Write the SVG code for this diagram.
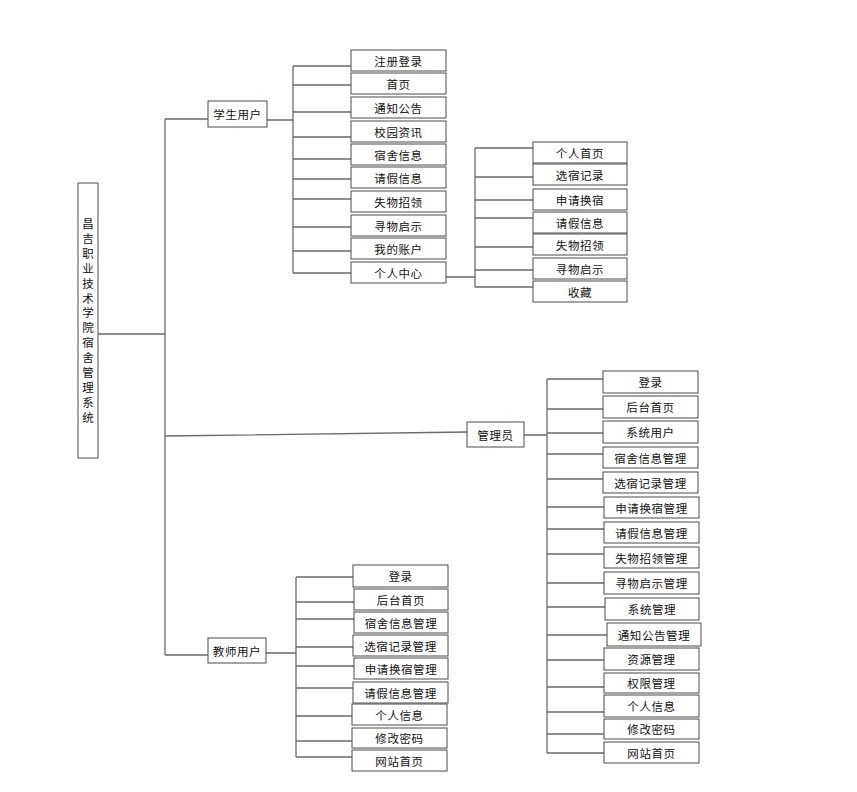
<svg xmlns="http://www.w3.org/2000/svg" width="857" height="792" viewBox="0 0 857 792">
<style>
.box{fill:#fff;stroke:#4a4a4a;stroke-width:1}
.lbl{font-family:"Noto Sans CJK SC","Liberation Sans",sans-serif;font-size:11.5px;letter-spacing:0.6px;text-anchor:middle;dominant-baseline:central;fill:#111}
.c{stroke:#6a6a6a;stroke-width:1.3;fill:none}
</style>
<rect width="857" height="792" fill="#fff"/>
<g id="connectors">
<path class="c" d="M98,334H165M165,119V655M165,119H208M165,436L467,432M165,655H208"/>
<path class="c" d="M267,120H293M293,66V273M293,66H351M293,85H351M293,112H351M293,137H351M293,159H351M293,179H351M293,199H351M293,227H351M293,251H351M293,273H351"/>
<path class="c" d="M446,277H475M475,148V287M475,148H533M475,177H533M475,200H533M475,218H533M475,247H533M475,270H533M475,287H533"/>
<path class="c" d="M524,435H547M547,379V753M547,379H603M547,409H603M547,433H603M547,454H603M547,479H603M547,507H604M547,529H604M547,554H604M547,583H604M547,607H605M547,635H607M547,660H604M547,687H604M547,712H604M547,734H604M547,753H604"/>
<path class="c" d="M266,653H296M296,577V757M296,577H353M296,602H354M296,619H354M296,647H353M296,666H354M296,688H353M296,716H352M296,741H352M296,757H352"/>
</g>
<g id="root">
<rect class="box" x="78" y="183" width="20" height="275"/>
<text class="lbl" x="88" y="223" style="letter-spacing:0">
<tspan x="88" y="223">昌</tspan><tspan x="88" dy="14.9">吉</tspan><tspan x="88" dy="14.9">职</tspan><tspan x="88" dy="14.9">业</tspan><tspan x="88" dy="14.9">技</tspan><tspan x="88" dy="14.9">术</tspan><tspan x="88" dy="14.9">学</tspan><tspan x="88" dy="14.9">院</tspan><tspan x="88" dy="14.9">宿</tspan><tspan x="88" dy="14.9">舍</tspan><tspan x="88" dy="14.9">管</tspan><tspan x="88" dy="14.9">理</tspan><tspan x="88" dy="14.9">系</tspan><tspan x="88" dy="14.9">统</tspan>
</text>
</g>
<g id="student"><rect class="box" x="208" y="101" width="59" height="26"/><text class="lbl" x="237.5" y="114">学生用户</text></g>
<g id="admin"><rect class="box" x="467" y="422" width="57" height="25"/><text class="lbl" x="495.5" y="434.5">管理员</text></g>
<g id="teacher"><rect class="box" x="208" y="638" width="58" height="25"/><text class="lbl" x="237" y="650.5">教师用户</text></g>

<g id="s1"><rect class="box" x="351" y="50" width="95" height="21"/><text class="lbl" x="398.5" y="60.5">注册登录</text></g>
<g id="s2"><rect class="box" x="351" y="73" width="95" height="21"/><text class="lbl" x="398.5" y="83.5">首页</text></g>
<g id="s3"><rect class="box" x="351" y="97" width="95" height="21"/><text class="lbl" x="398.5" y="107.5">通知公告</text></g>
<g id="s4"><rect class="box" x="351" y="121" width="95" height="21"/><text class="lbl" x="398.5" y="131.5">校园资讯</text></g>
<g id="s5"><rect class="box" x="351" y="144" width="95" height="21"/><text class="lbl" x="398.5" y="154.5">宿舍信息</text></g>
<g id="s6"><rect class="box" x="351" y="167" width="95" height="21"/><text class="lbl" x="398.5" y="177.5">请假信息</text></g>
<g id="s7"><rect class="box" x="351" y="191" width="95" height="21"/><text class="lbl" x="398.5" y="201.5">失物招领</text></g>
<g id="s8"><rect class="box" x="351" y="215" width="95" height="21"/><text class="lbl" x="398.5" y="225.5">寻物启示</text></g>
<g id="s9"><rect class="box" x="351" y="238" width="95" height="21"/><text class="lbl" x="398.5" y="248.5">我的账户</text></g>
<g id="s10"><rect class="box" x="351" y="262" width="95" height="21"/><text class="lbl" x="398.5" y="272.5">个人中心</text></g>

<g id="p1"><rect class="box" x="533" y="142" width="94" height="21"/><text class="lbl" x="580" y="152.5">个人首页</text></g>
<g id="p2"><rect class="box" x="533" y="164" width="94" height="21"/><text class="lbl" x="580" y="174.5">选宿记录</text></g>
<g id="p3"><rect class="box" x="533" y="189" width="94" height="21"/><text class="lbl" x="580" y="199.5">申请换宿</text></g>
<g id="p4"><rect class="box" x="533" y="212" width="94" height="21"/><text class="lbl" x="580" y="222.5">请假信息</text></g>
<g id="p5"><rect class="box" x="533" y="234" width="94" height="21"/><text class="lbl" x="580" y="244.5">失物招领</text></g>
<g id="p6"><rect class="box" x="533" y="258" width="94" height="21"/><text class="lbl" x="580" y="268.5">寻物启示</text></g>
<g id="p7"><rect class="box" x="533" y="281" width="94" height="21"/><text class="lbl" x="580" y="291.5">收藏</text></g>

<g id="a1"><rect class="box" x="603" y="371" width="95" height="22"/><text class="lbl" x="650.5" y="382">登录</text></g>
<g id="a2"><rect class="box" x="603" y="396" width="95" height="22"/><text class="lbl" x="650.5" y="407">后台首页</text></g>
<g id="a3"><rect class="box" x="603" y="421" width="95" height="22"/><text class="lbl" x="650.5" y="432">系统用户</text></g>
<g id="a4"><rect class="box" x="603" y="447" width="95" height="21"/><text class="lbl" x="650.5" y="457.5">宿舍信息管理</text></g>
<g id="a5"><rect class="box" x="603" y="472" width="95" height="21"/><text class="lbl" x="650.5" y="482.5">选宿记录管理</text></g>
<g id="a6"><rect class="box" x="604" y="497" width="95" height="21"/><text class="lbl" x="651.5" y="507.5">申请换宿管理</text></g>
<g id="a7"><rect class="box" x="604" y="522" width="95" height="21"/><text class="lbl" x="651.5" y="532.5">请假信息管理</text></g>
<g id="a8"><rect class="box" x="604" y="547" width="95" height="21"/><text class="lbl" x="651.5" y="557.5">失物招领管理</text></g>
<g id="a9"><rect class="box" x="604" y="572" width="95" height="22"/><text class="lbl" x="651.5" y="583">寻物启示管理</text></g>
<g id="a10"><rect class="box" x="605" y="598" width="94" height="22"/><text class="lbl" x="652" y="609">系统管理</text></g>
<g id="a11"><rect class="box" x="607" y="623" width="94" height="23"/><text class="lbl" x="654" y="634.5">通知公告管理</text></g>
<g id="a12"><rect class="box" x="604" y="648" width="95" height="22"/><text class="lbl" x="651.5" y="659">资源管理</text></g>
<g id="a13"><rect class="box" x="604" y="673" width="95" height="20"/><text class="lbl" x="651.5" y="683">权限管理</text></g>
<g id="a14"><rect class="box" x="604" y="695" width="95" height="22"/><text class="lbl" x="651.5" y="706">个人信息</text></g>
<g id="a15"><rect class="box" x="604" y="719" width="95" height="20"/><text class="lbl" x="651.5" y="729">修改密码</text></g>
<g id="a16"><rect class="box" x="604" y="742" width="95" height="21"/><text class="lbl" x="651.5" y="752.5">网站首页</text></g>

<g id="t1"><rect class="box" x="353" y="565" width="95" height="22"/><text class="lbl" x="400.5" y="576">登录</text></g>
<g id="t2"><rect class="box" x="354" y="589" width="94" height="21"/><text class="lbl" x="401" y="599.5">后台首页</text></g>
<g id="t3"><rect class="box" x="354" y="612" width="94" height="21"/><text class="lbl" x="401" y="622.5">宿舍信息管理</text></g>
<g id="t4"><rect class="box" x="353" y="635" width="95" height="21"/><text class="lbl" x="400.5" y="645.5">选宿记录管理</text></g>
<g id="t5"><rect class="box" x="354" y="658" width="94" height="21"/><text class="lbl" x="401" y="668.5">申请换宿管理</text></g>
<g id="t6"><rect class="box" x="353" y="682" width="95" height="21"/><text class="lbl" x="400.5" y="692.5">请假信息管理</text></g>
<g id="t7"><rect class="box" x="352" y="704" width="95" height="21"/><text class="lbl" x="399.5" y="714.5">个人信息</text></g>
<g id="t8"><rect class="box" x="352" y="728" width="95" height="20"/><text class="lbl" x="399.5" y="738">修改密码</text></g>
<g id="t9"><rect class="box" x="352" y="750" width="95" height="21"/><text class="lbl" x="399.5" y="760.5">网站首页</text></g>
</svg>
